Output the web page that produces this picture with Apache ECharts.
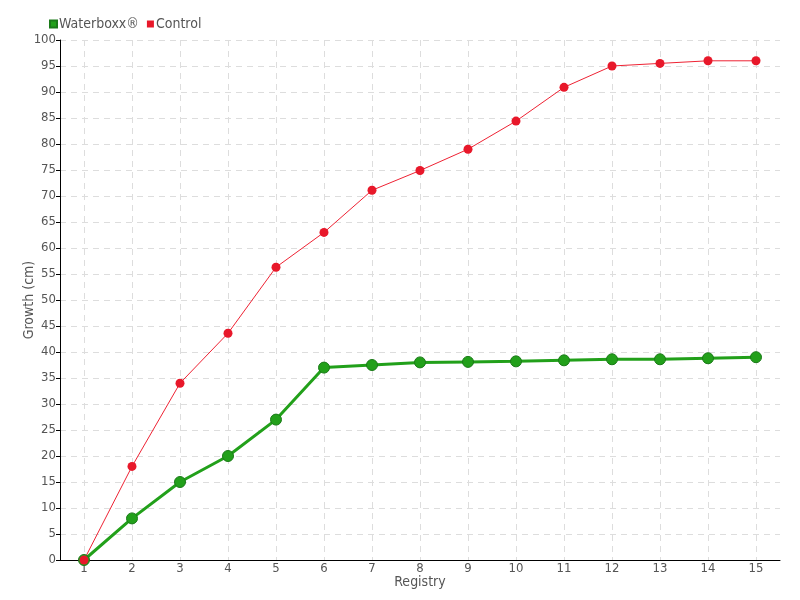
<!DOCTYPE html>
<html><head><meta charset="utf-8">
<script src="https://cdn.jsdelivr.net/npm/echarts@6/dist/echarts.min.js"></script>
<style>html,body{margin:0;padding:0;background:#fff}#c{width:800px;height:600px}</style>
</head><body><div id="c"></div>
<script>
const categories = ['1','2','3','4','5','6','7','8','9','10','11','12','13','14','15'];
const waterboxx = [0, 8, 15, 20, 27, 37, 37.5, 38, 38.1, 38.2, 38.4, 38.6, 38.6, 38.8, 39];
const control = [0, 18, 34, 43.6, 56.3, 63, 71.1, 74.9, 79, 84.4, 90.9, 95, 95.5, 96, 96];
const FONT = '"DejaVu Sans Condensed", "Liberation Sans Narrow", sans-serif';
const chart = echarts.init(document.getElementById('c'));
chart.setOption({
  animation: false,
  textStyle: {fontFamily: FONT},
  legend: {
    left: 44, top: 12, itemWidth: 7, itemHeight: 7, itemGap: 8,
    icon: 'rect',
    textStyle: {fontSize: 14, color: '#555', fontFamily: FONT, padding: [0,0,0,-3]},
    data: ['Waterboxx®', 'Control']
  },
  grid: {left: 60, right: 20, top: 40, bottom: 40, outerBoundsMode: 'none', containLabel: false},
  xAxis: {
    type: 'category', data: categories, boundaryGap: true,
    name: 'Registry', nameLocation: 'middle', nameGap: 15, nameMoveOverlap: false,
    nameTextStyle: {fontSize: 14, color: '#555', fontFamily: FONT, verticalAlign: 'top'},
    axisLine: {lineStyle: {color: '#000', width: 1}},
    axisTick: {alignWithLabel: true, lineStyle: {color: '#000'}, length: 4},
    axisLabel: {fontSize: 13, color: '#555', margin: 2, fontFamily: FONT},
    splitLine: {show: true, alignWithLabel: true, lineStyle: {color: '#ddd', type: [6, 5]}}
  },
  yAxis: {
    type: 'value', min: 0, max: 100, interval: 5,
    name: 'Growth (cm)', nameLocation: 'middle', nameGap: 24, nameMoveOverlap: false,
    nameTextStyle: {fontSize: 14, color: '#555', fontFamily: FONT},
    axisLine: {show: true, lineStyle: {color: '#000', width: 1}},
    axisTick: {show: true, lineStyle: {color: '#000'}, length: 4},
    axisLabel: {fontSize: 13, color: '#555', margin: 4, fontFamily: FONT},
    splitLine: {show: true, lineStyle: {color: '#ddd', type: [6, 5]}}
  },
  series: [
    {
      name: 'Waterboxx®', type: 'line', data: waterboxx,
      symbol: 'circle', symbolSize: 11,
      lineStyle: {color: '#22a01a', width: 3},
      itemStyle: {color: '#22a01a', borderColor: '#1a7a18', borderWidth: 1}
    },
    {
      name: 'Control', type: 'line', data: control,
      symbol: 'circle', symbolSize: 9,
      lineStyle: {color: '#ee2233', width: 1},
      itemStyle: {color: '#e8182a', borderColor: '#e8182a', borderWidth: 0}
    }
  ]
});
</script></body></html>
